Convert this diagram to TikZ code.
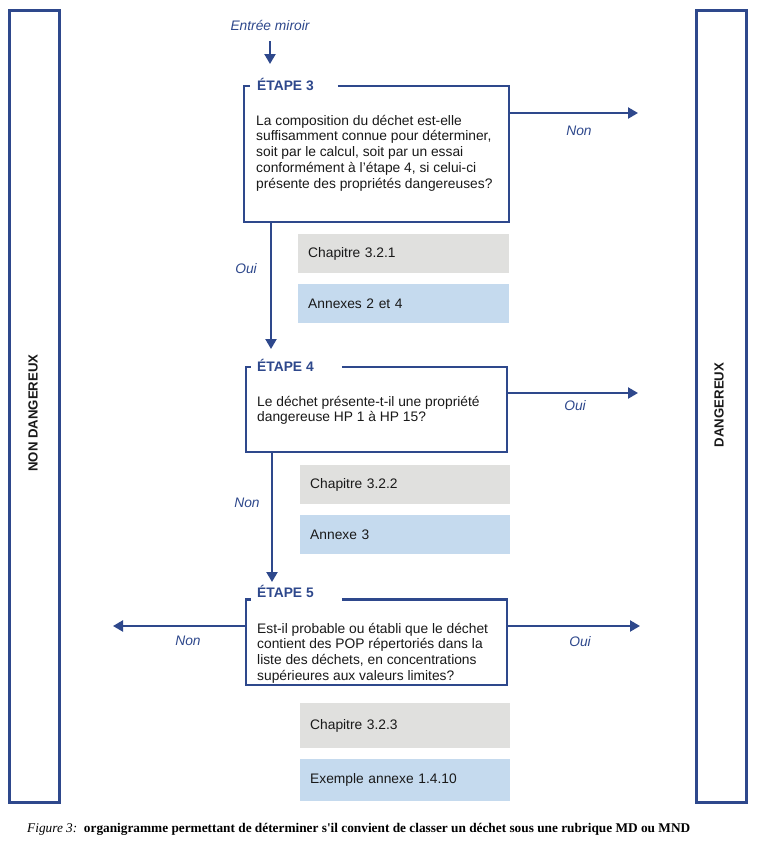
\documentclass[tikz,border=0pt]{standalone}
\usepackage{fontspec}
\setmainfont{Liberation Sans}
\newfontfamily\capfont{Liberation Serif}
\usetikzlibrary{arrows.meta}
\definecolor{navy}{RGB}{46,72,140}
\definecolor{boxgray}{RGB}{224,224,222}
\definecolor{boxblue}{RGB}{197,218,238}
\definecolor{txt}{RGB}{25,25,25}
\tikzset{
  sidebar/.style={draw=navy, line width=3pt, minimum width=50pt, minimum height=792pt, inner sep=0pt},
  sidetext/.style={font=\fontsize{13.2}{15}\selectfont\bfseries, text=txt, rotate=90},
  qbox/.style={draw=none, inner sep=0pt},
  boxline/.style={draw=navy, line width=2.4pt},
  steplabel/.style={font=\fontsize{13.8}{16}\selectfont\bfseries, text=navy, inner sep=0pt, anchor=base west},
  qtext/.style={font=\fontsize{13.8}{15.8}\selectfont, text=txt, inner sep=0pt, anchor=base west},
  refbox/.style={inner xsep=10pt, inner ysep=0pt, minimum height=39pt, text width=191pt, align=left,
                 font=\fontsize{13.8}{16}\selectfont, text=txt, anchor=north west},
  graybox/.style={refbox, fill=boxgray},
  bluebox/.style={refbox, fill=boxblue},
  ans/.style={font=\fontsize{13.8}{16}\selectfont\itshape, text=navy, inner sep=0pt},
  arr/.style={draw=navy, line width=2.2pt, -{Triangle[length=10pt,width=11pt]}},
}
\newcommand{\qlines}[1]{\vtop{\baselineskip=15.8pt #1}}
\begin{document}
\begin{tikzpicture}[x=1pt,y=-1pt]
\useasboundingbox (0,0) rectangle (764,844);
\fill[white] (0,0) rectangle (764,844);

% sidebars
\node[sidebar] (nd) at (34.5,406.5) {};
\node[sidetext] (ndt) at (33,413) {NON DANGEREUX};
\node[sidebar] (dg) at (721.5,406.5) {};
\node[sidetext] (dgt) at (719,405) {DANGEREUX};

% entry
\node[ans] (entry) at (270,25) {Entrée miroir};
\coordinate (e1) at (270,41);
\coordinate (e2) at (270,64);
\draw[arr] (e1) -- (e2);

% step 3
\node[qbox, minimum width=265pt, minimum height=136pt] (s3) at (376.5,154) {};
\draw[boxline] ([xshift=94pt]s3.north west) -- (s3.north east) -- (s3.south east) -- (s3.south west) -- (s3.north west) -- ([xshift=6pt]s3.north west);
\node[steplabel] (l3) at (257,90.5) {ÉTAPE 3};
\node[qtext] (t3) at (256,125) {\qlines{\hbox{La composition du déchet est-elle}\hbox{suffisamment connue pour déterminer,}\hbox{soit par le calcul, soit par un essai}\hbox{conformément à l'étape 4, si celui-ci}\hbox{présente des propriétés dangereuses?}}};
\node[graybox] (c321) at (298,234) {Chapitre 3.2.1};
\node[bluebox] (a24) at (298,284) {Annexes 2 et 4};

% step 4
\node[qbox, minimum width=261pt, minimum height=85pt] (s4) at (376.5,409.5) {};
\draw[boxline] ([xshift=96pt]s4.north west) -- (s4.north east) -- (s4.south east) -- (s4.south west) -- (s4.north west) -- ([xshift=5pt]s4.north west);
\node[steplabel] (l4) at (257,371) {ÉTAPE 4};
\node[qtext] (t4) at (257,406) {\qlines{\hbox{Le déchet présente-t-il une propriété}\hbox{dangereuse HP 1 à HP 15?}}};
\node[graybox, text width=190pt] (c322) at (300,465) {Chapitre 3.2.2};
\node[bluebox, text width=190pt] (a3) at (300,515) {Annexe 3};

% step 5
\node[qbox, minimum width=261pt, minimum height=85pt] (s5) at (376.5,642) {};
\draw[boxline] ([xshift=96pt]s5.north west) -- (s5.north east) -- (s5.south east) -- (s5.south west) -- (s5.north west) -- ([xshift=5pt]s5.north west);
\node[steplabel] (l5) at (257,597) {ÉTAPE 5};
\node[qtext] (t5) at (257,633) {\qlines{\hbox{Est-il probable ou établi que le déchet}\hbox{contient des POP répertoriés dans la}\hbox{liste des déchets, en concentrations}\hbox{supérieures aux valeurs limites?}}};
\node[graybox, text width=190pt, minimum height=45pt] (c323) at (300,703) {Chapitre 3.2.3};
\node[bluebox, text width=190pt, minimum height=42pt] (ex) at (300,759) {Exemple annexe 1.4.10};

% vertical connectors
\coordinate (v34) at (271,349);
\draw[arr] (s3.south west -| v34) -- (v34);
\coordinate (v45) at (272,582);
\draw[arr] (s4.south west -| v45) -- (v45);

% horizontal connectors
\coordinate (r3) at (638,113);
\draw[arr] (s3.east |- r3) -- (r3);
\coordinate (r4) at (638,393);
\draw[arr] (s4.east |- r4) -- (r4);
\coordinate (r5) at (640,626);
\draw[arr] (s5.east |- r5) -- (r5);
\coordinate (l5e) at (113,626);
\draw[arr] (s5.west |- l5e) -- (l5e);

% answer labels
\node[ans] (n3) at (579,131) {Non};
\node[ans] (o3) at (246,269) {Oui};
\node[ans] (o4) at (575,406) {Oui};
\node[ans] (n4) at (247,503) {Non};
\node[ans] (n5) at (188,641) {Non};
\node[ans] (o5) at (580,642) {Oui};

% caption
\node[anchor=base west, inner sep=0pt] (cap) at (27,832) {\resizebox{663pt}{!}{\capfont\fontsize{12}{14}\selectfont\textit{Figure 3:}\ \ \textbf{organigramme permettant de déterminer s'il convient de classer un déchet sous une rubrique MD ou MND}}};
\end{tikzpicture}
\end{document}
